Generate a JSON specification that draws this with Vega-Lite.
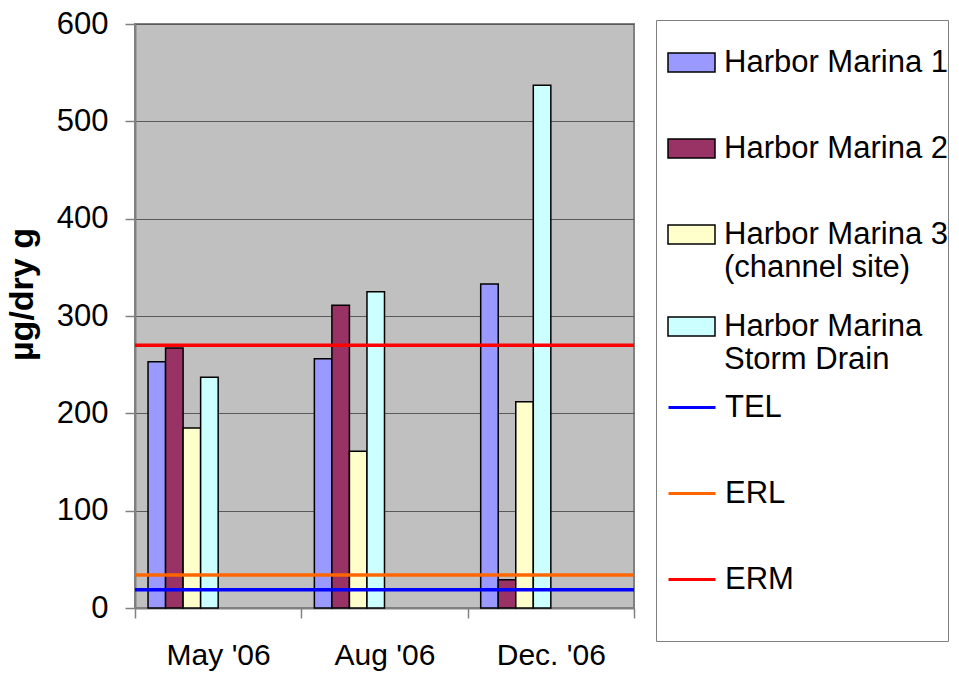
{
  "$schema": "https://vega.github.io/schema/vega-lite/v6.json",
  "width": 499,
  "height": 584,
  "autosize": {"type": "none"},
  "padding": {"left": 135, "top": 24, "right": 325, "bottom": 67},
  "background": "white",
  "config": {
    "view": {"fill": "#C0C0C0", "stroke": "#808080", "strokeWidth": 2},
    "font": "Liberation Sans"
  },
  "datasets": {
    "bars": [
      {"month": "May '06", "site": "Harbor Marina 1", "value": 253},
      {"month": "May '06", "site": "Harbor Marina 2", "value": 267},
      {"month": "May '06", "site": "Harbor Marina 3 (channel site)", "value": 185},
      {"month": "May '06", "site": "Harbor Marina Storm Drain", "value": 237},
      {"month": "Aug '06", "site": "Harbor Marina 1", "value": 256},
      {"month": "Aug '06", "site": "Harbor Marina 2", "value": 311},
      {"month": "Aug '06", "site": "Harbor Marina 3 (channel site)", "value": 161},
      {"month": "Aug '06", "site": "Harbor Marina Storm Drain", "value": 325},
      {"month": "Dec. '06", "site": "Harbor Marina 1", "value": 333},
      {"month": "Dec. '06", "site": "Harbor Marina 2", "value": 29},
      {"month": "Dec. '06", "site": "Harbor Marina 3 (channel site)", "value": 212},
      {"month": "Dec. '06", "site": "Harbor Marina Storm Drain", "value": 537}
    ],
    "limits": [
      {"site": "TEL", "value": 18.7},
      {"site": "ERL", "value": 34},
      {"site": "ERM", "value": 270}
    ]
  },
  "layer": [
    {
      "data": {"name": "bars"},
      "mark": {"type": "bar", "stroke": "black", "strokeWidth": 1.5},
      "encoding": {
        "x": {
          "field": "month",
          "type": "nominal",
          "sort": ["May '06", "Aug '06", "Dec. '06"],
          "scale": {"paddingInner": 0, "paddingOuter": 0},
          "axis": {
            "title": null,
            "labelAngle": 0,
            "tickBand": "extent",
            "tickSize": 10,
            "tickColor": "#808080",
            "tickWidth": 1.5,
            "domainColor": "#808080",
            "domainWidth": 2,
            "labelFontSize": 30,
            "labelPadding": 22,
            "labelColor": "black",
            "grid": false
          }
        },
        "xOffset": {
          "field": "site",
          "scale": {
            "domain": ["Harbor Marina 1", "Harbor Marina 2", "Harbor Marina 3 (channel site)", "Harbor Marina Storm Drain", "slot5", "slot6", "slot7", "slot8"],
            "paddingInner": 0,
            "paddingOuter": 0.743
          }
        },
        "y": {
          "field": "value",
          "type": "quantitative",
          "scale": {"domain": [0, 600], "nice": false},
          "axis": {
            "title": "µg/dry g",
            "titleFontSize": 34,
            "titleFontWeight": "bold",
            "titleColor": "black",
            "titlePadding": 17,
            "titleY": 270,
            "values": [0, 100, 200, 300, 400, 500, 600],
            "tickSize": 10,
            "tickColor": "#808080",
            "tickWidth": 1.5,
            "labelPadding": 17,
            "labelFontSize": 31,
            "labelColor": "black",
            "grid": true,
            "gridColor": "#5a5a5a",
            "gridWidth": 1.2,
            "domainColor": "#808080",
            "domainWidth": 2
          }
        },
        "color": {
          "field": "site",
          "type": "nominal",
          "scale": {
            "domain": ["Harbor Marina 1", "Harbor Marina 2", "Harbor Marina 3 (channel site)", "Harbor Marina Storm Drain"],
            "range": ["#9999FF", "#993366", "#FFFFCC", "#CCFFFF"]
          },
          "legend": {
            "title": " ",
            "titleOrient": "bottom",
            "titleFontSize": 268,
            "titlePadding": 0,
            "orient": "none",
            "legendX": 521,
            "legendY": -4,
            "padding": 0,
            "strokeColor": "#808080",
            "labelFont": "Liberation Sans",
            "labelFontSize": 31,
            "labelColor": "black",
            "labelLimit": 400,
            "labelBaseline": "middle",
            "symbolType": "M-1,-0.4H1V0.4H-1Z",
            "symbolSize": 2209,
            "symbolStrokeColor": "black",
            "symbolStrokeWidth": 1.5,
            "symbolOffset": 11,
            "labelOffset": 8,
            "rowPadding": 1,
            "clipHeight": 85,
            "labelExpr": "datum.label == 'Harbor Marina 3 (channel site)' ? ['Harbor Marina 3', '(channel site)'] : datum.label == 'Harbor Marina Storm Drain' ? ['Harbor Marina', 'Storm Drain'] : datum.label"
          }
        }
      }
    },
    {
      "data": {"name": "limits"},
      "mark": {"type": "rule", "strokeWidth": 3.5},
      "encoding": {
        "y": {"field": "value", "type": "quantitative"},
        "stroke": {
          "field": "site",
          "type": "nominal",
          "scale": {
            "domain": ["TEL", "ERL", "ERM"],
            "range": ["#0000FF", "#FF6600", "#FF0000"]
          },
          "legend": {
            "title": null,
            "orient": "none",
            "legendX": 521,
            "legendY": 341,
            "padding": 0,
            "labelFont": "Liberation Sans",
            "labelFontSize": 31,
            "labelColor": "black",
            "labelLimit": 400,
            "labelBaseline": "middle",
            "symbolType": "stroke",
            "symbolSize": 2209,
            "symbolStrokeWidth": 3,
            "symbolOffset": 11,
            "labelOffset": 8,
            "rowPadding": 1,
            "clipHeight": 85
          }
        }
      }
    }
  ]
}
